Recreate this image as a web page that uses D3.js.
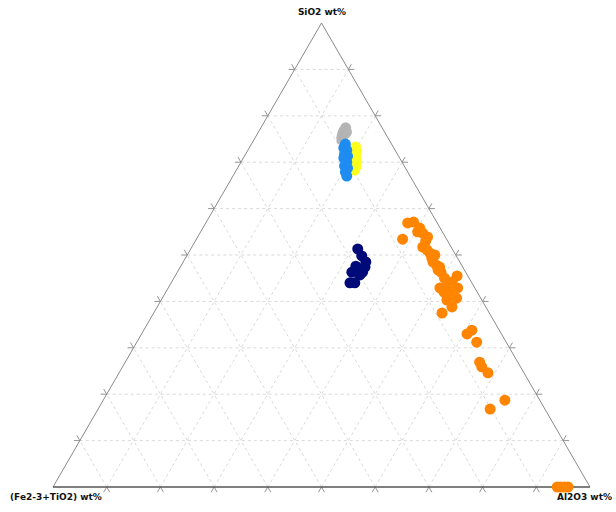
<!DOCTYPE html>
<html>
<head>
<meta charset="utf-8">
<script src="https://cdn.jsdelivr.net/npm/d3@7"></script>
<style>
  body { margin: 0; background: #fff; }
  svg { display: block; }
  text { font-family: "DejaVu Sans", sans-serif; font-size: 9px; fill: #111; font-weight: 600; }
</style>
</head>
<body>
<div id="chart"></div>
<script>
// ternary values in wt%: [SiO2, Al2O3, Fe2-3+TiO2]
var grayPts = [[77.4,15.8,6.8],[76.7,15.8,7.5],[76.1,15.9,8.0],[75.4,16.1,8.5],[76.1,16.3,7.6],[74.8,16.4,8.8],[76.5,16.4,7.1]];
var yellowPts = [[73.3,19.7,7.0],[72.2,20.4,7.4],[71.1,20.8,8.1],[70.0,21.5,8.5],[69.0,21.9,9.1],[68.3,22.0,9.7]];
var bluePts = [[73.9,17.5,8.6],[73.1,17.6,9.3],[72.6,18.4,9.0],[71.8,18.4,9.8],[71.3,19.2,9.5],[70.9,18.7,10.4],
  [70.0,19.7,10.3],[69.2,19.7,11.1],[68.7,20.5,10.8],[67.9,20.5,11.6],[67.0,21.2,11.8]];
var navyPts = [[51.3,31.1,17.6],[49.8,32.6,17.6],[47.6,32.6,19.8],[47.4,34.4,18.2],[46.3,32.5,21.2],[45.7,34.3,20.0],
  [44.0,33.3,22.7],[44.0,34.2,21.8],[46.3,34.5,19.2],[48.5,34.0,17.5]];
var orangePts = [[56.9,37.6,5.5],[57.1,38.6,4.3],[53.4,38.4,8.2],[55.8,40.4,3.8],[54.7,41.5,3.8],[53.9,42.8,3.3],
  [55.0,40.4,4.6],[53.0,42.9,4.1],[51.7,43.0,5.3],[51.1,44.1,4.8],[50.4,45.0,4.6],[50.0,46.1,3.9],[49.3,45.9,4.8],
  [48.5,46.5,5.0],[47.8,47.5,4.7],[46.8,48.3,4.9],[47.4,48.3,4.3],[46.3,49.1,4.6],[45.5,52.5,2.0],[45.0,50.4,4.6],
  [44.2,52.2,3.6],[42.9,50.6,6.5],[43.1,51.8,5.1],[42.9,53.9,3.2],[42.0,51.8,6.2],[41.8,53.0,5.2],[40.7,54.8,4.5],
  [40.3,53.2,6.5],[38.8,54.9,6.3],[37.5,53.7,8.8],[33.8,61.1,5.1],[33.0,60.6,6.4],[31.2,63.3,5.5],[26.9,66.0,7.1],
  [25.9,66.9,7.2],[24.6,68.7,6.7],[18.7,74.8,6.5],[16.8,73.0,10.2],[0,93.9,6.1],[0,94.6,5.4],[0,95.3,4.7],[0,95.9,4.1]];

var groups = [
  {pts: grayPts, color: "#b4b4b4"},
  {pts: yellowPts, color: "#ffff1e"},
  {pts: bluePts, color: "#1e8cf0"},
  {pts: navyPts, color: "#000a78"},
  {pts: orangePts, color: "#ff8500"}
];
var gridSteps = d3.range(1, 10).map(function(k) { return k / 10; });

var width = 616, height = 512;
var svg = d3.select("#chart").append("svg").attr("width", width).attr("height", height);

// cartesian of ternary: cx = A + S/2, cy = S
var x = d3.scaleLinear().domain([0, 1]).range([53, 590]);
var y = d3.scaleLinear().domain([0, 1]).range([487, 23]);
function pos(s, a) { return [x(a + s / 2), y(s)]; }

// grid lines: constant SiO2, constant Al2O3, constant Fe
var lines = [];
gridSteps.forEach(function(k) {
  lines.push([pos(k, 0), pos(k, 1 - k)]);         // SiO2 = k
  lines.push([pos(0, k), pos(1 - k, k)]);         // Al2O3 = k
  lines.push([pos(0, 1 - k), pos(1 - k, 0)]);     // Fe = k
});

svg.append("g").selectAll("line").data(lines).enter().append("line")
  .attr("x1", function(d) { return d[0][0]; }).attr("y1", function(d) { return d[0][1]; })
  .attr("x2", function(d) { return d[1][0]; }).attr("y2", function(d) { return d[1][1]; })
  .attr("stroke", "#cfcfcf").attr("stroke-width", 0.8).attr("stroke-dasharray", "3,3");

// ticks: short outward continuation of each grid line
var tickLen = 6;
var ticks = [];
lines.forEach(function(l) {
  [[l[0], l[1]], [l[1], l[0]]].forEach(function(p) {
    var dx = p[0][0] - p[1][0], dy = p[0][1] - p[1][1];
    var len = Math.sqrt(dx * dx + dy * dy);
    ticks.push([p[0], [p[0][0] + dx / len * tickLen, p[0][1] + dy / len * tickLen]]);
  });
});
svg.append("g").selectAll("line").data(ticks).enter().append("line")
  .attr("x1", function(d) { return d[0][0]; }).attr("y1", function(d) { return d[0][1]; })
  .attr("x2", function(d) { return d[1][0]; }).attr("y2", function(d) { return d[1][1]; })
  .attr("stroke", "#777").attr("stroke-width", 0.8);

// triangle frame
var corners = [pos(0, 0), pos(0, 1), pos(1, 0)];
svg.append("path")
  .attr("d", "M" + corners[0] + "L" + corners[2] + "L" + corners[1])
  .attr("fill", "none").attr("stroke", "#8a8a8a").attr("stroke-width", 1);
svg.append("line")
  .attr("x1", corners[0][0]).attr("y1", corners[0][1])
  .attr("x2", corners[1][0]).attr("y2", corners[1][1])
  .attr("stroke", "#555").attr("stroke-width", 1.3);

// points
groups.forEach(function(g) {
  svg.append("g").selectAll("circle").data(g.pts).enter().append("circle")
    .attr("cx", function(d) { return pos(d[0] / 100, d[1] / 100)[0]; })
    .attr("cy", function(d) { return pos(d[0] / 100, d[1] / 100)[1]; })
    .attr("r", 5.5)
    .attr("fill", g.color);
});

// axis labels
svg.append("text").attr("x", 322).attr("y", 15).attr("text-anchor", "middle").text("SiO2 wt%");
svg.append("text").attr("x", 10).attr("y", 500).attr("text-anchor", "start").text("(Fe2-3+TiO2) wt%");
svg.append("text").attr("x", 612).attr("y", 500).attr("text-anchor", "end").text("Al2O3 wt%");
</script>
</body>
</html>
